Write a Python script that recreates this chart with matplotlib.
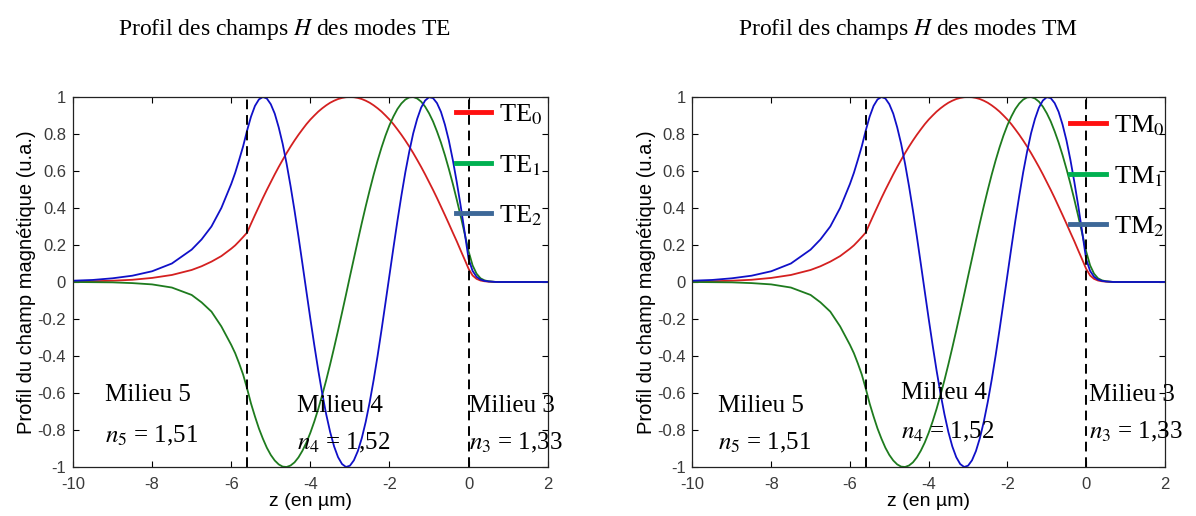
import matplotlib
matplotlib.use('Agg')
import matplotlib.pyplot as plt
from matplotlib.lines import Line2D

plt.rcParams['font.family'] = ['Liberation Sans', 'DejaVu Sans']
plt.rcParams['mathtext.fontset'] = 'stix'
plt.rcParams['axes.unicode_minus'] = False

z_um = [-10, -9.5, -9, -8.5, -8, -7.5, -7, -6.75, -6.5, -6.25, -6.0, -5.9, -5.8, -5.7,
        -5.6, -5.5, -5.4, -5.3, -5.2, -5.1, -5.0, -4.9, -4.8, -4.7,
        -4.6, -4.5, -4.4, -4.3, -4.2, -4.1, -4.0, -3.9, -3.8, -3.7,
        -3.6, -3.5, -3.4, -3.3, -3.2, -3.1, -3.0, -2.9, -2.8, -2.7,
        -2.6, -2.5, -2.4, -2.3, -2.2, -2.1, -2.0, -1.9, -1.8, -1.7,
        -1.6, -1.5, -1.4, -1.3, -1.2, -1.1, -1.0, -0.9, -0.8, -0.7,
        -0.6, -0.5, -0.4, -0.3, -0.2, -0.1, 0.0,
        0.1, 0.2, 0.3, 0.4, 0.5, 0.7, 1.0, 1.5, 2.0]

mode0 = [0.002, 0.004, 0.007, 0.012, 0.022, 0.038, 0.065, 0.085, 0.11, 0.14, 0.18, 0.198, 0.22, 0.243,
         0.267, 0.315, 0.362, 0.408, 0.454, 0.498, 0.540, 0.582, 0.622, 0.660,
         0.697, 0.732, 0.765, 0.796, 0.825, 0.853, 0.878, 0.900, 0.921, 0.939,
         0.955, 0.969, 0.980, 0.989, 0.995, 0.999, 1.000, 0.999, 0.995, 0.989,
         0.980, 0.969, 0.955, 0.939, 0.921, 0.900, 0.878, 0.853, 0.825, 0.796,
         0.765, 0.732, 0.697, 0.660, 0.622, 0.582, 0.540, 0.498, 0.454, 0.408,
         0.362, 0.315, 0.267, 0.220, 0.170, 0.121, 0.071,
         0.035, 0.017, 0.008, 0.004, 0.002, 0.0, 0.0, 0.0, 0.0]

mode1 = [0.0, -0.001, -0.002, -0.006, -0.013, -0.03, -0.07, -0.11, -0.16, -0.24, -0.34, -0.385, -0.44, -0.50,
         -0.575, -0.657, -0.727, -0.792, -0.847, -0.896, -0.935, -0.965, -0.986, -0.998,
         -1.000, -0.992, -0.975, -0.948, -0.912, -0.868, -0.815, -0.754, -0.686, -0.611,
         -0.531, -0.445, -0.355, -0.262, -0.166, -0.069, 0.030, 0.127, 0.224, 0.319,
         0.410, 0.497, 0.580, 0.657, 0.728, 0.792, 0.848, 0.895, 0.935, 0.965,
         0.986, 0.998, 1.000, 0.992, 0.975, 0.948, 0.912, 0.868, 0.814, 0.754,
         0.686, 0.611, 0.531, 0.445, 0.355, 0.261, 0.165,
         0.09, 0.045, 0.02, 0.009, 0.004, 0.0, 0.0, 0.0, 0.0]

mode2 = [0.007, 0.011, 0.02, 0.034, 0.058, 0.10, 0.175, 0.23, 0.30, 0.40, 0.53, 0.59, 0.66, 0.733,
         0.818, 0.894, 0.952, 0.987, 1.000, 0.992, 0.961, 0.910, 0.836, 0.747,
         0.639, 0.518, 0.386, 0.245, 0.098, -0.051, -0.199, -0.342, -0.478, -0.603,
         -0.715, -0.811, -0.889, -0.947, -0.984, -1.000, -0.993, -0.964, -0.914, -0.844,
         -0.755, -0.649, -0.529, -0.398, -0.257, -0.110, 0.038, 0.186, 0.330, 0.466,
         0.593, 0.705, 0.804, 0.882, 0.943, 0.981, 0.999, 0.994, 0.967, 0.920,
         0.851, 0.765, 0.660, 0.540, 0.410, 0.268, 0.123,
         0.06, 0.028, 0.013, 0.006, 0.003, 0.0, 0.0, 0.0, 0.0]

# TE and TM profiles look the same on the picture
profiles = {'TE': [mode0, mode1, mode2], 'TM': [mode0, mode1, mode2]}

interfaces = [-5.6, 0.0]
milieux = ['Milieu 5', 'Milieu 4', 'Milieu 3']
indices = ['$n_{\\mathit{5}}$ = 1,51', '$n_{\\mathit{4}}$ = 1,52', '$n_{\\mathit{3}}$ = 1,33']
label_pos = {'TE': [(-9.2, -0.61, -0.83), (-4.35, -0.67, -0.87), (0.0, -0.67, -0.87)],
             'TM': [(-9.35, -0.67, -0.87), (-4.7, -0.6, -0.81), (0.07, -0.61, -0.81)]}

curve_colors = ['#d42020', '#1e7b1e', '#1010c8']
legend_colors = ['#ff1010', '#00b050', '#3d6898']

fig = plt.figure(figsize=(11.96, 5.16), dpi=100)
axes_rects = {'TE': [0.061, 0.095, 0.397, 0.717], 'TM': [0.579, 0.095, 0.395, 0.717]}
legend_anchor = {'TE': (0.806, 0.985), 'TM': (0.80, 0.955)}
title_x = {'TE': 0.238, 'TM': 0.759}

for mode, rect in axes_rects.items():
    ax = fig.add_axes(rect)
    for prof, c in zip(profiles[mode], curve_colors):
        ax.plot(z_um, prof, color=c, lw=1.3)
    for zi in interfaces:
        ax.axvline(zi, color='black', ls=(0, (5, 3)), lw=1.4)
    ax.set_xlim(-10, 2)
    ax.set_ylim(-1, 1)
    ax.set_xticks(range(-10, 3, 2))
    ax.set_yticks([-1, -0.8, -0.6, -0.4, -0.2, 0, 0.2, 0.4, 0.6, 0.8, 1])
    ax.set_yticklabels(['-1', '-0.8', '-0.6', '-0.4', '-0.2', '0', '0.2', '0.4', '0.6', '0.8', '1'])
    ax.tick_params(direction='in', top=True, right=True, labelsize=12,
                   labelcolor='#3a3a3a', length=4, width=0.8)
    ax.tick_params(axis='x', pad=7)
    ax.tick_params(axis='y', pad=5)
    for s in ax.spines.values():
        s.set_linewidth(0.9)
        s.set_color('#222222')
    ax.set_xlabel('z (en µm)', fontsize=14, labelpad=1)
    ax.set_ylabel('Profil du champ magnétique (u.a.)', fontsize=14.5, labelpad=1)

    for (x, y1, y2), m, n in zip(label_pos[mode], milieux, indices):
        ax.text(x, y1, m, family='Liberation Serif', fontsize=18, va='center')
        ax.text(x, y2, n, family='Liberation Serif', fontsize=18, va='center')

    handles = [Line2D([], [], color=c, lw=3.5) for c in legend_colors]
    labels = [mode + '$_{0}$', mode + '$_{1}$', mode + '$_{2}$']
    ax.legend(handles, labels, loc='upper left', bbox_to_anchor=legend_anchor[mode],
              frameon=False, borderpad=0, borderaxespad=0, handlelength=1.35,
              handletextpad=0.3, labelspacing=0.98,
              prop={'family': 'Liberation Serif', 'size': 19})

    fig.text(title_x[mode], 0.942, 'Profil des champs $H$ des modes ' + mode,
             family='Liberation Serif', fontsize=17, ha='center', va='center')

fig.savefig('out.png', dpi=100)
